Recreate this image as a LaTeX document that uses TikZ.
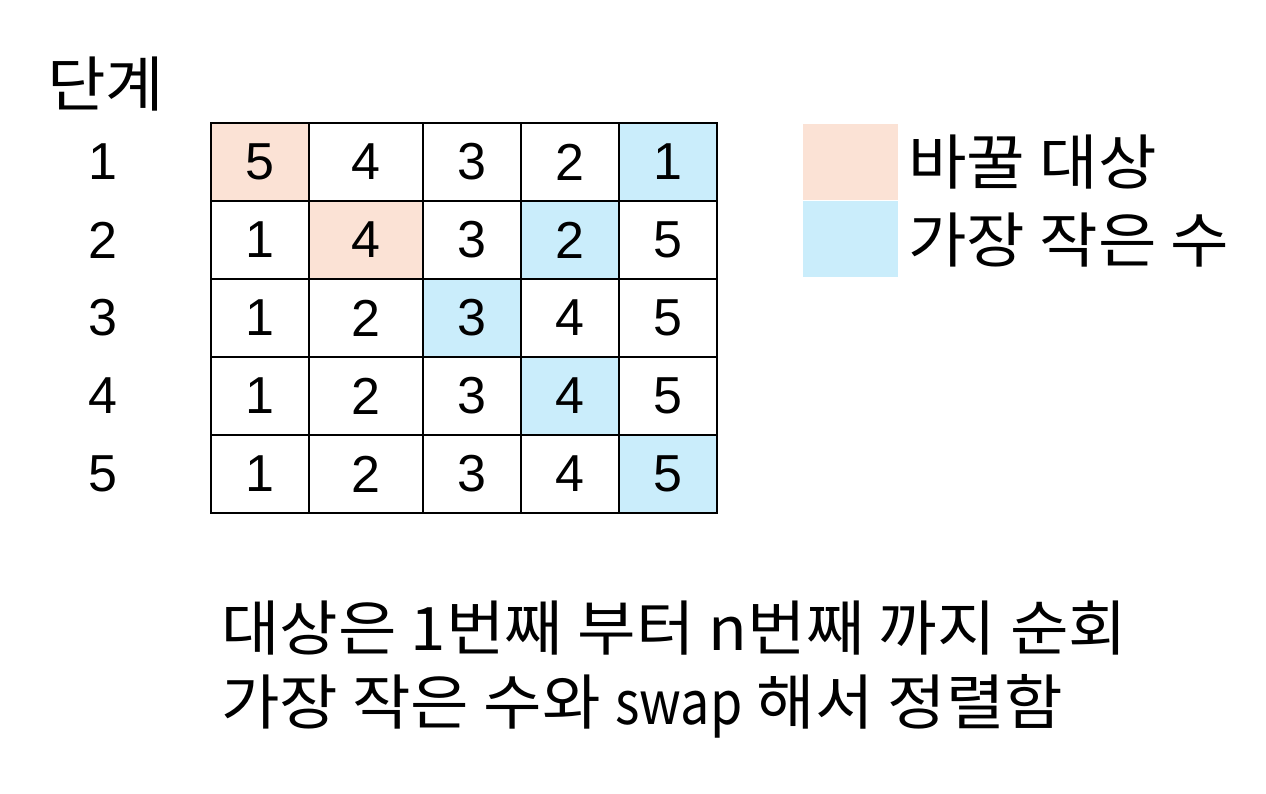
\documentclass[tikz,border=0pt]{standalone}
\usepackage{fontspec}
\setmainfont{Liberation Sans}
\newfontfamily\kr{Noto Sans CJK KR}
\definecolor{peach}{HTML}{FBE2D5}
\definecolor{lblue}{HTML}{CAEDFB}
\begin{document}
\begin{tikzpicture}[x=1pt,y=-1pt,
  cell/.style={inner sep=0pt, minimum height=78pt, font=\fontsize{52}{60}\selectfont},
  wA/.style={minimum width=98pt},
  wB/.style={minimum width=114pt},
  tgt/.style={fill=peach},
  mn/.style={fill=lblue},
  gridline/.style={draw=black, line width=2.4pt},
  lab/.style={inner sep=0pt, font=\fontsize{52}{60}\selectfont},
  krtext/.style={inner sep=0pt, anchor=west, xscale=1.06, font=\kr\fontsize{60}{68}\selectfont},
  legbox/.style={inner sep=0pt, minimum width=95pt, minimum height=76pt}]
\useasboundingbox (0,0) rectangle (1266,794);

\node[krtext] (title) at (47,84) {단계};

% row 1
\node[cell,wA,tgt] (c11) at (260,162) {5};
\node[cell,wB]     (c12) at (366,162) {4};
\node[cell,wA]     (c13) at (472,162) {3};
\node[cell,wA]     (c14) at (570,162) {2};
\node[cell,wA,mn]  (c15) at (668,162) {1};
% row 2
\node[cell,wA]     (c21) at (260,240) {1};
\node[cell,wB,tgt] (c22) at (366,240) {4};
\node[cell,wA]     (c23) at (472,240) {3};
\node[cell,wA,mn]  (c24) at (570,240) {2};
\node[cell,wA]     (c25) at (668,240) {5};
% row 3
\node[cell,wA]     (c31) at (260,318) {1};
\node[cell,wB]     (c32) at (366,318) {2};
\node[cell,wA,mn]  (c33) at (472,318) {3};
\node[cell,wA]     (c34) at (570,318) {4};
\node[cell,wA]     (c35) at (668,318) {5};
% row 4
\node[cell,wA]     (c41) at (260,396) {1};
\node[cell,wB]     (c42) at (366,396) {2};
\node[cell,wA]     (c43) at (472,396) {3};
\node[cell,wA,mn]  (c44) at (570,396) {4};
\node[cell,wA]     (c45) at (668,396) {5};
% row 5
\node[cell,wA]     (c51) at (260,474) {1};
\node[cell,wB]     (c52) at (366,474) {2};
\node[cell,wA]     (c53) at (472,474) {3};
\node[cell,wA]     (c54) at (570,474) {4};
\node[cell,wA,mn]  (c55) at (668,474) {5};

\foreach \r in {1,...,5}{
  \foreach \c in {1,...,5}{
    \draw[gridline] (c\r\c.north west) rectangle (c\r\c.south east);
  }
}

% step labels
\foreach \r/\y in {1/162,2/240,3/318,4/396,5/474}{
  \node[lab] (s\r) at (103,\y) {\r};
}

% legend
\node[legbox, fill=peach] (lgA) at (850.5,162) {};
\node[legbox, fill=lblue] (lgB) at (850.5,239.5) {};
\node[krtext] (lgAt) at (908,162) {바꿀 대상};
\node[krtext] (lgBt) at (908,240) {가장 작은 수};

% note
\node[krtext] (n1) at (221,628) {대상은 1번째 부터 n번째 까지 순회};
\node[krtext] (n2) at (221,706) {가장 작은 수와 \scalebox{0.82}[1]{swap} 해서 정렬함};
\end{tikzpicture}
\end{document}
